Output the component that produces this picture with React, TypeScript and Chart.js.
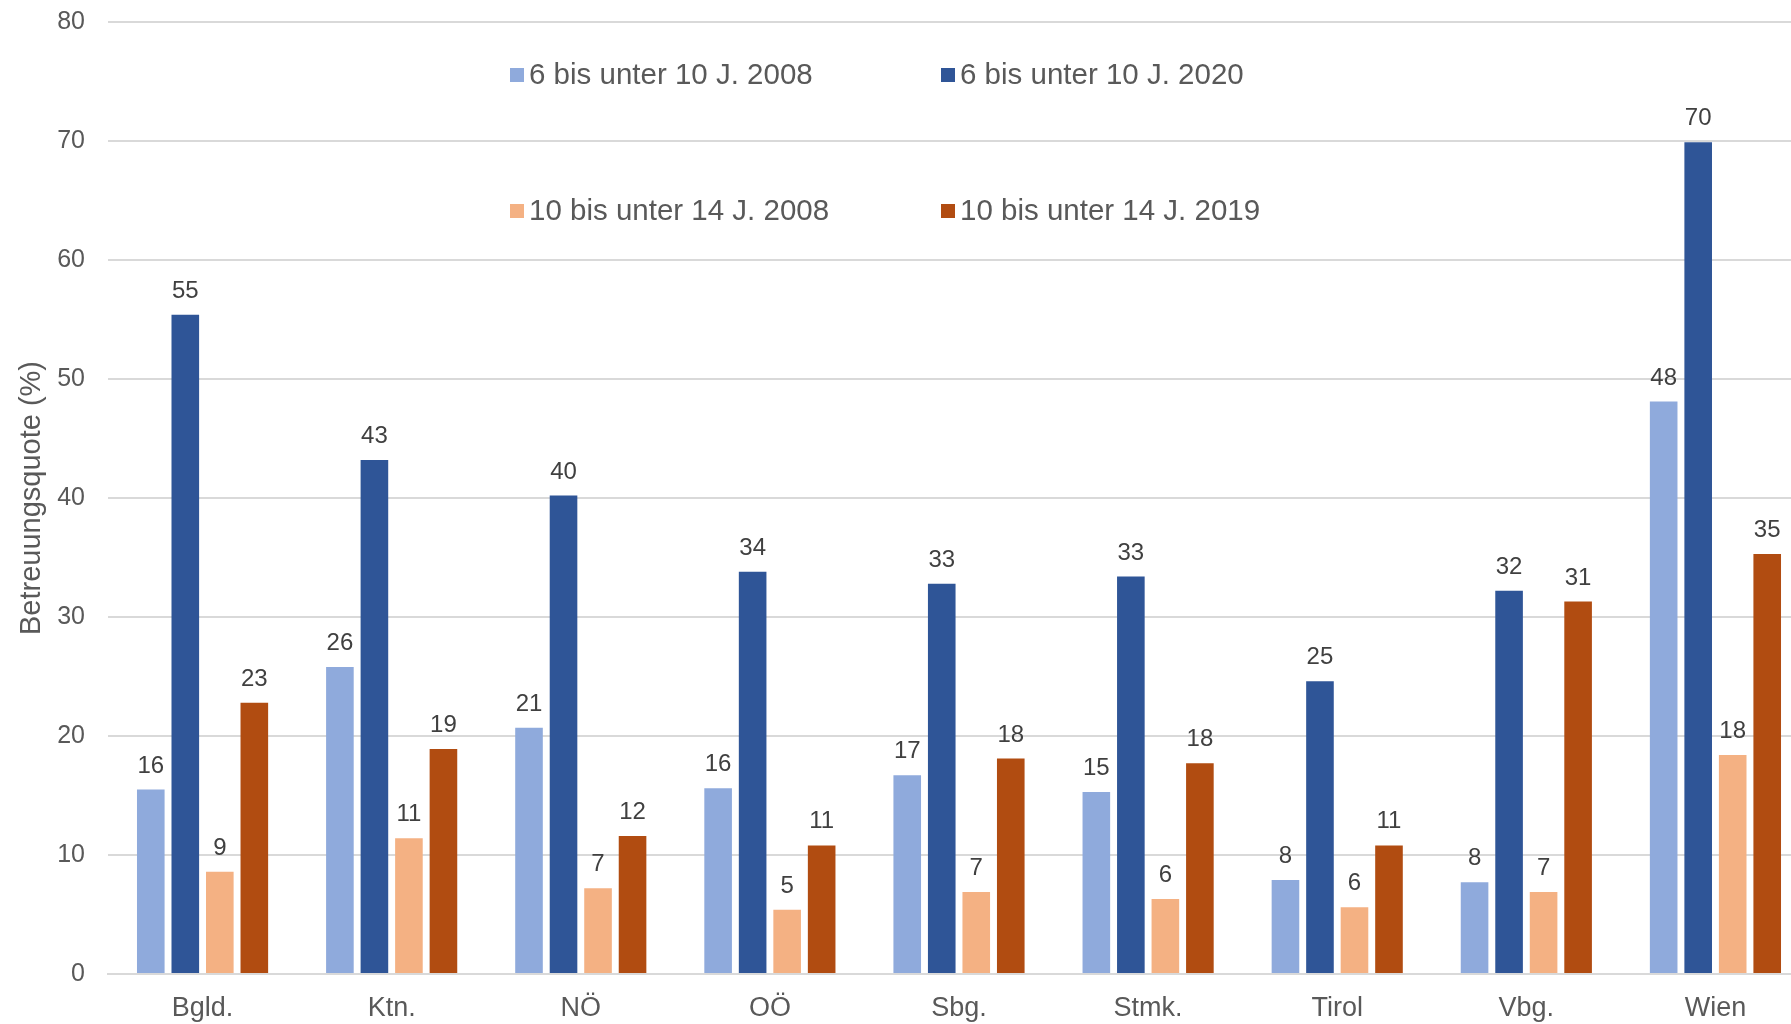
import React, { useEffect, useRef } from "react";
import { Chart, registerables } from "chart.js";

Chart.register(...registerables);

const categories = ["Bgld.", "Ktn.", "NÖ", "OÖ", "Sbg.", "Stmk.", "Tirol", "Vbg.", "Wien"];
const seriesLabels = [
  "6 bis unter 10 J. 2008",
  "6 bis unter 10 J. 2020",
  "10 bis unter 14 J. 2008",
  "10 bis unter 14 J. 2019",
];
const young2008 = [15.5, 25.8, 20.7, 15.6, 16.7, 15.3, 7.9, 7.7, 48.1];
const young2020 = [55.4, 43.2, 40.2, 33.8, 32.8, 33.4, 24.6, 32.2, 69.9];
const old2008 = [8.6, 11.4, 7.2, 5.4, 6.9, 6.3, 5.6, 6.9, 18.4];
const old2019 = [22.8, 18.9, 11.6, 10.8, 18.1, 17.7, 10.8, 31.3, 35.3];
const yTicks = [0, 10, 20, 30, 40, 50, 60, 70, 80];
const colors = ["#8FAADC", "#2F5597", "#F4B183", "#B14C11"];

const FONT = "'Liberation Sans', Arial, sans-serif";

const valueLabels = {
  id: "valueLabels",
  afterDatasetsDraw(chart: any) {
    const ctx = chart.ctx;
    ctx.save();
    ctx.font = `24px ${FONT}`;
    ctx.fillStyle = "#404040";
    ctx.textAlign = "center";
    ctx.textBaseline = "alphabetic";
    chart.data.datasets.forEach((ds: any, i: number) => {
      const meta = chart.getDatasetMeta(i);
      meta.data.forEach((bar: any, j: number) => {
        const v = ds.data[j];
        ctx.fillText(String(Math.round(v)), bar.x, bar.y - 17);
      });
    });
    ctx.restore();
  },
};

const gridLegend = {
  id: "gridLegend",
  afterDraw(chart: any) {
    const ctx = chart.ctx;
    ctx.save();
    ctx.font = `29.5px ${FONT}`;
    ctx.textBaseline = "middle";
    ctx.textAlign = "left";
    const cols = [510, 941];
    const rows = [75, 211];
    chart.data.datasets.forEach((ds: any, i: number) => {
      const x = cols[i % 2];
      const y = rows[Math.floor(i / 2)];
      ctx.fillStyle = ds.backgroundColor;
      ctx.fillRect(x, y - 7, 14, 14);
      ctx.fillStyle = "#595959";
      ctx.fillText(ds.label, x + 19, y + 1);
    });
    ctx.restore();
  },
};

export default function App() {
  const ref = useRef<HTMLCanvasElement>(null);
  useEffect(() => {
    document.body.style.margin = "0";
    const seriesData = [young2008, young2020, old2008, old2019];
    const chart = new Chart(ref.current!, {
      type: "bar",
      data: {
        labels: categories,
        datasets: seriesData.map((d, i) => ({
          label: seriesLabels[i],
          data: d,
          backgroundColor: colors[i],
          borderWidth: 0,
          categoryPercentage: 0.73,
          barPercentage: 0.8,
        })),
      },
      options: {
        responsive: false,
        animation: false,
        devicePixelRatio: 1,
        layout: { padding: { top: 22, right: 1, left: 0, bottom: 0 } },
        plugins: {
          legend: { display: false },
          tooltip: { enabled: false },
        },
        scales: {
          x: {
            grid: { display: false, drawTicks: false },
            border: { display: true, color: "#D9D9D9", width: 2 },
            ticks: {
              font: { family: FONT, size: 27 },
              color: "#595959",
              padding: 18,
            },
            afterFit(scale: any) {
              scale.height = 50;
            },
          },
          y: {
            min: 0,
            max: 80,
            afterBuildTicks(scale: any) {
              scale.ticks = yTicks.map((v) => ({ value: v }));
            },
            grid: { color: "#D9D9D9", lineWidth: 2, drawTicks: false },
            border: { display: false },
            ticks: {
              font: { family: FONT, size: 25 },
              color: "#595959",
              padding: 23,
            },
            title: {
              display: true,
              text: "Betreuungsquote (%)",
              font: { family: FONT, size: 29 },
              color: "#595959",
              padding: { top: 15, bottom: 0 },
            },
            afterFit(scale: any) {
              scale.width = 108;
              scale.paddingTop = 0;
              scale.paddingBottom = 0;
            },
          },
        },
      },
      plugins: [valueLabels, gridLegend],
    });
    return () => chart.destroy();
  }, []);
  return (
    <div style={{ width: 1791, height: 1024, overflow: "hidden" }}>
      <canvas ref={ref} width={1811} height={1024} style={{ display: "block" }} />
    </div>
  );
}
